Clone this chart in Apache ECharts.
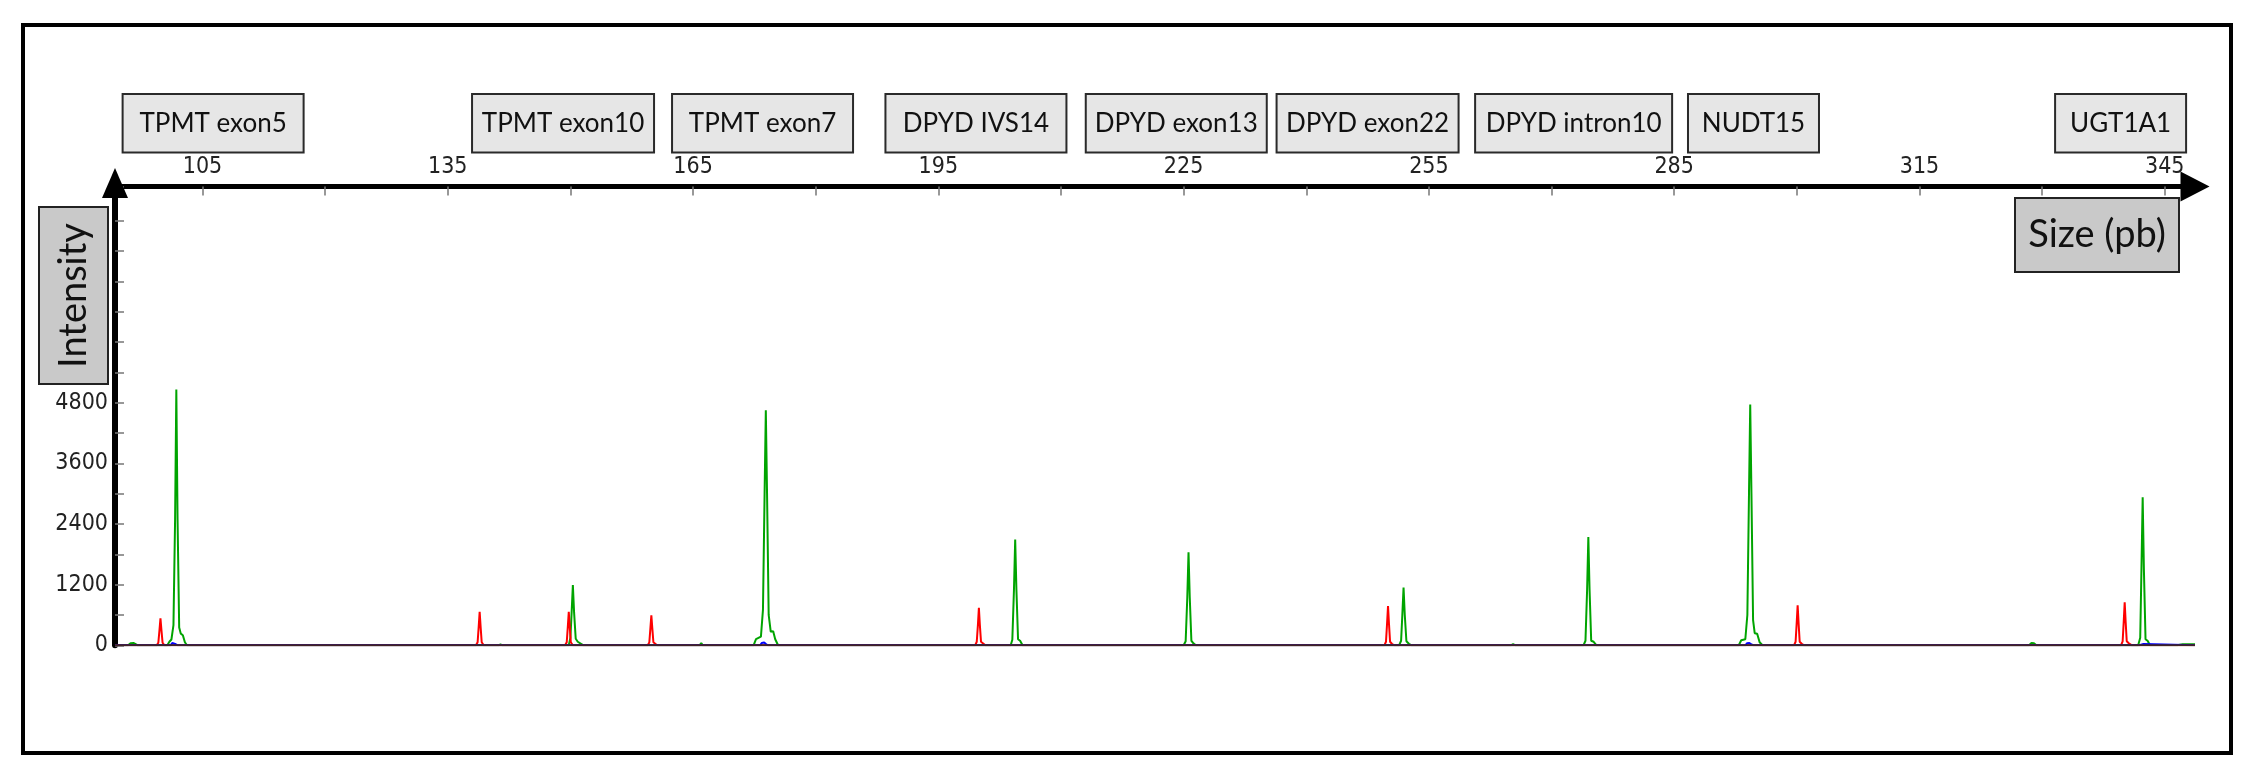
<!DOCTYPE html>
<html><head><meta charset="utf-8">
<script src="https://cdn.jsdelivr.net/npm/echarts@6/dist/echarts.min.js"></script>
<style>html,body{margin:0;padding:0;background:#fff}#c{width:2258px;height:780px}</style>
</head><body><div id="c"></div>
<script>
// ---- data ----
const xTickLabels = [105,135,165,195,225,255,285,315,345];
const xTickMarks = [105,120,135,150,165,180,195,210,225,240,255,270,285,300,315,330,345];
const yTickLabels = [0,1200,2400,3600,4800];
const markerNames = ['TPMT exon5','TPMT exon10','TPMT exon7','DPYD IVS14','DPYD exon13','DPYD exon22','DPYD intron10','NUDT15','UGT1A1'];
const markerSizes = [106.3,149.1,173.5,199.6,224.1,247.5,272.7,294.7,339.6];
const xRange = [94.3, 348.7];
const yRange = [0, 9074];

const greenTrace = [
 [94.3,0],[95.9,0],[96.2,40],[96.6,45],[97.1,0],
 [100.7,0],[100.95,70],[101.2,115],[101.45,400],[101.65,2500],[101.8,5060],[101.95,2500],[102.15,350],[102.35,230],[102.6,200],[102.85,60],[103.1,0],
 [141.2,0],[141.45,20],[141.7,0],
 [149.8,0],[150.0,150],[150.15,650],[150.3,1190],[150.45,650],[150.65,130],[150.9,70],[151.3,30],[151.6,0],
 [165.8,0],[166.0,45],[166.2,0],
 [172.4,0],[172.7,120],[173.3,170],[173.55,700],[173.75,3000],[173.9,4650],[174.05,3000],[174.25,600],[174.5,270],[174.8,280],[175.05,120],[175.4,0],
 [203.85,0],[204.05,110],[204.25,1100],[204.4,2090],[204.55,1100],[204.75,120],[205.0,90],[205.3,0],
 [225.0,0],[225.25,80],[225.45,950],[225.6,1840],[225.75,950],[225.95,90],[226.2,40],[226.5,0],
 [251.35,0],[251.6,90],[251.75,600],[251.9,1140],[252.05,600],[252.25,80],[252.55,30],[252.9,0],
 [263.1,0],[263.3,35],[263.5,0],
 [265.0,0],[265.3,22],[265.6,0],
 [273.9,0],[274.15,90],[274.35,1100],[274.5,2140],[274.65,1100],[274.85,90],[275.15,70],[275.5,0],
 [282.9,0],[283.1,28],[283.3,0],
 [292.9,0],[293.2,100],[293.7,120],[293.95,600],[294.15,3000],[294.3,4760],[294.45,3000],[294.65,500],[294.85,240],[295.15,230],[295.45,60],[295.8,0],
 [328.4,0],[328.7,45],[329.0,40],[329.3,0],
 [341.75,0],[342.0,150],[342.15,1500],[342.3,2930],[342.45,1500],[342.65,120],[342.9,90],[343.2,0],
 [346.5,0],[347.2,20],[348.7,20]
];
const redTrace = [
 [94.3,0],
 [99.4,0],[99.6,50],[99.74,300],[99.86,535],[99.98,300],[100.12,50],[100.35,0],
 [138.45,0],[138.65,60],[138.78,360],[138.9,660],[139.02,360],[139.15,60],[139.4,0],
 [149.35,0],[149.55,60],[149.68,360],[149.8,660],[149.92,360],[150.05,60],[150.3,0],
 [159.45,0],[159.65,55],[159.78,330],[159.9,595],[160.02,330],[160.15,60],[160.35,30],[160.6,0],
 [199.5,0],[199.7,70],[199.84,400],[199.96,740],[200.08,400],[200.22,70],[200.45,35],[200.75,0],
 [249.55,0],[249.75,70],[249.88,420],[250.0,776],[250.12,420],[250.25,70],[250.5,25],[250.8,0],
 [299.65,0],[299.85,70],[299.98,430],[300.1,790],[300.22,430],[300.35,70],[300.6,30],[300.9,0],
 [339.65,0],[339.85,80],[339.98,460],[340.1,850],[340.22,460],[340.35,80],[340.6,40],[341.0,0],
 [348.7,0]
];
const blueTrace = [
 [94.3,0],[101.1,0],[101.3,45],[101.5,55],[101.75,20],[102.0,0],
 [173.2,0],[173.4,45],[173.7,55],[173.95,20],[174.2,0],
 [293.7,0],[293.9,40],[294.2,45],[294.45,15],[294.7,0],
 [341.9,0],[342.1,25],[342.4,25],[342.6,0],[348.7,0]
];
const blackTrace = [[94.3,0],[348.7,0]];

// ---- layout / style ----
const boxWidths = [181,182,181,181,181,182,197,131,131];
const labelFont = 'Lato, "Open Sans", sans-serif';
const tickFont = '"Liberation Sans Narrow", "Arial Narrow", "DejaVu Sans Condensed", sans-serif';

const chart = echarts.init(document.getElementById('c'), null, {renderer:'canvas'});
chart.setOption({
  animation: false,
  backgroundColor: '#ffffff',
  grid: {left: 115, right: 63, top: 186.5, bottom: 134.7, containLabel: false},
  xAxis: {
    type: 'value', position: 'top', min: xRange[0], max: xRange[1],
    axisLine: {show: true, onZero: false, lineStyle: {color: '#000', width: 5},
      symbol: ['none', 'triangle'], symbolSize: [30, 29], symbolOffset: [0, 0]},
    axisTick: {show: true, inside: true, length: 9, customValues: xTickMarks, lineStyle: {color: '#777', width: 1.5}},
    axisLabel: {show: true, customValues: xTickLabels, margin: 8, fontSize: 23, fontFamily: tickFont, color: '#222'},
    splitLine: {show: false}
  },
  yAxis: {
    type: 'value', min: yRange[0], max: yRange[1], interval: 600,
    axisLine: {show: true, onZero: false, lineStyle: {color: '#000', width: 6},
      symbol: ['none', 'triangle'], symbolSize: [26, 30], symbolOffset: [0, 3.5]},
    axisTick: {show: true, inside: true, length: 9, lineStyle: {color: '#777', width: 1.5}},
    axisLabel: {show: true, margin: 7, fontSize: 23, fontFamily: tickFont, color: '#222',
      formatter: function (v) { return yTickLabels.indexOf(v) >= 0 ? String(v) : ''; }},
    splitLine: {show: false}
  },
  graphic: [
    {type: 'rect', shape: {x: 23, y: 25, width: 2208, height: 728}, style: {fill: 'none', stroke: '#000', lineWidth: 4}, silent: true},
    {type: 'rect', shape: {x: 39, y: 207, width: 69, height: 177}, style: {fill: '#c9c9c9', stroke: '#222', lineWidth: 2}, silent: true},
    {type: 'text', x: 74, y: 295.5, rotation: Math.PI / 2, silent: true,
      style: {text: 'Intensity', font: '38px ' + labelFont, fill: '#111', align: 'center', verticalAlign: 'middle', textAlign: 'center', textVerticalAlign: 'middle'}},
    {type: 'rect', shape: {x: 2015, y: 198, width: 164, height: 74}, style: {fill: '#c9c9c9', stroke: '#222', lineWidth: 2}, silent: true},
    {type: 'text', x: 2097, y: 235, silent: true,
      style: {text: 'Size (pb)', font: '38px ' + labelFont, fill: '#111', align: 'center', verticalAlign: 'middle', textAlign: 'center', textVerticalAlign: 'middle'}}
  ],
  series: [
    {name: 'green', type: 'line', data: greenTrace, showSymbol: false, symbol: 'none', z: 3,
      lineStyle: {color: '#00a400', width: 2}, itemStyle: {color: '#00a400'}},
    {name: 'red', type: 'line', data: redTrace, showSymbol: false, symbol: 'none', z: 4,
      lineStyle: {color: '#ff0000', width: 2}, itemStyle: {color: '#ff0000'}},
    {name: 'blue', type: 'line', data: blueTrace, showSymbol: false, symbol: 'none', z: 5,
      lineStyle: {color: '#0000ff', width: 2}, itemStyle: {color: '#0000ff'}},
    {name: 'black', type: 'line', data: blackTrace, showSymbol: false, symbol: 'none', z: 6,
      lineStyle: {color: '#402424', width: 2}, itemStyle: {color: '#402424'}},
    {name: 'markers', type: 'custom', coordinateSystem: 'cartesian2d', clip: false, silent: true, z: 10,
      data: markerSizes.map(function (v) { return [v, 0]; }),
      encode: {x: 0, y: 1},
      renderItem: function (params, api) {
        const cx = api.coord([api.value(0), 0])[0];
        const top = params.coordSys.y;
        const w = boxWidths[params.dataIndex];
        return {type: 'group', children: [
          {type: 'rect', shape: {x: cx - w / 2, y: top - 92.5, width: w, height: 58.5},
            style: {fill: '#e6e6e6', stroke: '#2a2a2a', lineWidth: 2}},
          {type: 'text', x: cx, y: top - 63.3,
            style: {text: markerNames[params.dataIndex], font: '26px ' + labelFont, fill: '#111',
              align: 'center', verticalAlign: 'middle', textAlign: 'center', textVerticalAlign: 'middle'}}
        ]};
      }
    }
  ]
});
</script>
</body></html>
